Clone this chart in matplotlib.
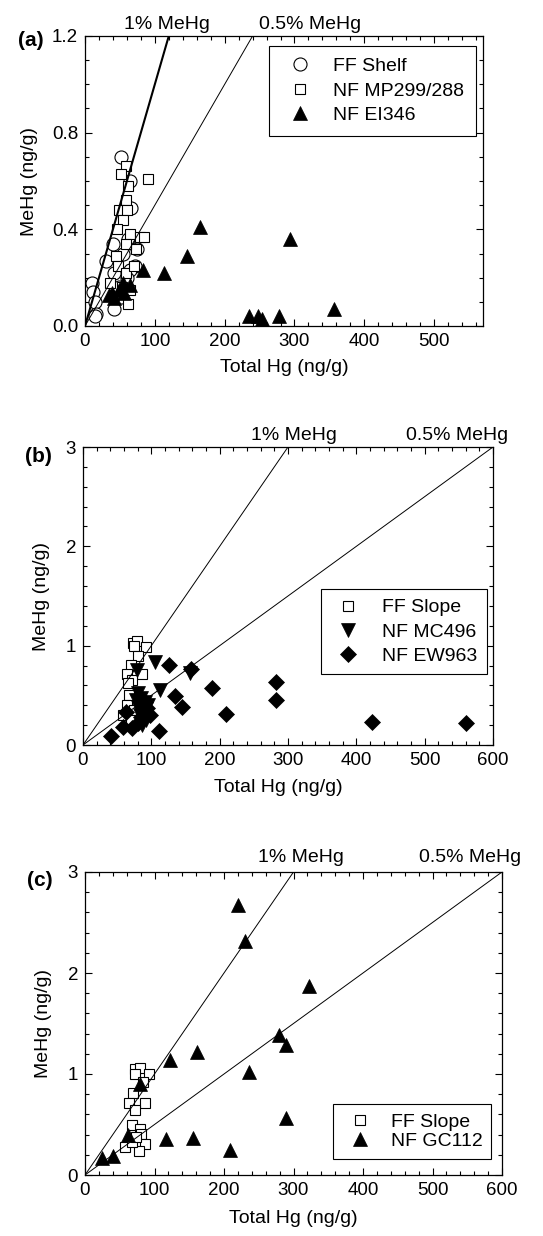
import numpy as np
import matplotlib
matplotlib.use("Agg")
import matplotlib.pyplot as plt
from matplotlib.ticker import MultipleLocator, FormatStrFormatter

plt.rcParams['font.family'] = ['Liberation Sans', 'DejaVu Sans']

# ---- panel (a) data: Total Hg (ng/g), MeHg (ng/g)
ff_shelf_x = [51, 64, 66, 40, 62, 74, 72, 65, 42, 10, 12, 15, 16, 14, 42, 52, 30, 55, 48, 60]
ff_shelf_y = [0.70, 0.60, 0.49, 0.34, 0.36, 0.32, 0.25, 0.23, 0.22, 0.18, 0.14, 0.10,
              0.05, 0.04, 0.07, 0.12, 0.27, 0.30, 0.16, 0.20]

mp299_x = [59, 51, 62, 90, 59, 48, 60, 54, 64, 79, 85, 46, 73, 45, 59, 47, 59, 36, 53, 65, 62, 70]
mp299_y = [0.66, 0.63, 0.58, 0.61, 0.52, 0.48, 0.48, 0.44, 0.38, 0.37, 0.37, 0.40,
           0.32, 0.29, 0.34, 0.25, 0.22, 0.18, 0.16, 0.15, 0.09, 0.25]

ei346_x = [165, 146, 113, 83, 65, 54, 48, 38, 34, 41, 56, 294, 357, 235, 248, 254, 278]
ei346_y = [0.41, 0.29, 0.22, 0.23, 0.17, 0.18, 0.15, 0.135, 0.13, 0.115, 0.135,
           0.36, 0.07, 0.04, 0.04, 0.03, 0.04]

# ---- panel (b)
ff_slope_b_x = [73, 79, 92, 75, 81, 70, 64, 86, 72, 68, 65, 58, 66, 75, 70]
ff_slope_b_y = [1.03, 1.05, 0.99, 1.00, 0.90, 0.81, 0.71, 0.71, 0.65, 0.50, 0.40,
                0.30, 0.62, 0.35, 0.25]

mc496_x = [106, 79, 112, 156, 80, 85, 90, 95, 88, 83, 92, 87, 80, 78]
mc496_y = [0.84, 0.76, 0.55, 0.72, 0.52, 0.47, 0.43, 0.40, 0.35, 0.30, 0.25, 0.20, 0.38, 0.45]

ew963_x = [41, 58, 72, 63, 111, 94, 85, 90, 98, 80, 126, 158, 189, 135, 145, 209,
           282, 282, 423, 560]
ew963_y = [0.09, 0.18, 0.17, 0.33, 0.14, 0.37, 0.28, 0.43, 0.30, 0.22, 0.81, 0.77,
           0.57, 0.49, 0.38, 0.31, 0.63, 0.45, 0.23, 0.22]

# ---- panel (c)
ff_slope_c_x = [72, 79, 92, 72, 84, 69, 64, 86, 72, 68, 79, 81, 86, 57, 78, 67, 74]
ff_slope_c_y = [1.05, 1.06, 1.00, 1.00, 0.92, 0.81, 0.71, 0.71, 0.64, 0.50, 0.46,
                0.41, 0.31, 0.28, 0.24, 0.33, 0.38]

gc112_x = [220, 230, 323, 279, 289, 161, 122, 236, 79, 289, 62, 117, 155, 209, 25, 40]
gc112_y = [2.67, 2.32, 1.87, 1.39, 1.29, 1.22, 1.14, 1.02, 0.90, 0.56, 0.40, 0.36,
           0.37, 0.25, 0.17, 0.19]

# MeHg as fraction of total Hg for the reference lines
ratio_1 = 0.01
ratio_05 = 0.005

W, H = 543, 1236
fig = plt.figure(figsize=(W / 100, H / 100), dpi=100)


def make_axes(left, right, top, bottom):
    return fig.add_axes([left / W, 1 - bottom / H, (right - left) / W, (bottom - top) / H])


def style_axes(ax, xmax, ymax, ymajor, yminor, yfmt):
    ax.set_xlim(0, xmax)
    ax.set_ylim(0, ymax)
    ax.xaxis.set_major_locator(MultipleLocator(100))
    ax.xaxis.set_minor_locator(MultipleLocator(20))
    ax.yaxis.set_major_locator(MultipleLocator(ymajor))
    ax.yaxis.set_minor_locator(MultipleLocator(yminor))
    ax.yaxis.set_major_formatter(FormatStrFormatter(yfmt))
    ax.tick_params(which='both', direction='in', top=True, right=True, width=0.8,
                   labelsize=13.5, pad=5)
    ax.tick_params(which='major', length=5)
    ax.tick_params(which='minor', length=3)
    for s in ax.spines.values():
        s.set_linewidth(0.9)
    ax.set_xlabel('Total Hg (ng/g)', fontsize=14)
    ax.set_ylabel('MeHg (ng/g)', fontsize=14)


def top_label(ax, x, text, dy):
    ax.annotate(text, xy=(x, 1), xycoords=('data', 'axes fraction'),
                xytext=(0, dy), textcoords='offset points', ha='center',
                va='baseline', fontsize=14, annotation_clip=False)


def add_legend(ax, loc, anchor, bpad, hlen, htpad, lspace):
    leg = ax.legend(loc=loc, bbox_to_anchor=anchor, fontsize=14, fancybox=False,
                    edgecolor='black', framealpha=1, borderpad=bpad,
                    handlelength=hlen, handletextpad=htpad, labelspacing=lspace,
                    borderaxespad=0)
    leg.get_frame().set_linewidth(0.8)


open_kw = dict(ls='none', mfc='white', mec='black', mew=0.8)
fill_kw = dict(ls='none', mfc='black', mec='black', mew=0.5)
xx = np.array([0, 600])

# ---------------- (a)
ax = make_axes(85, 483, 36, 326)
ax.plot(ff_shelf_x, ff_shelf_y, marker='o', ms=9.4, label='FF Shelf', **open_kw)
ax.plot(mp299_x, mp299_y, marker='s', ms=7.4, label='NF MP299/288', **open_kw)
ax.plot(ei346_x, ei346_y, marker='^', ms=9.8, label='NF EI346', **fill_kw)
ax.plot(xx, ratio_1 * xx, color='black', lw=1.5, zorder=5)
ax.plot(xx, ratio_05 * xx, color='black', lw=0.7, zorder=5)
style_axes(ax, 570, 1.2, 0.4, 0.1, '%.1f')
ax.yaxis.set_label_coords(-0.118, 0.5)
ax.xaxis.set_label_coords(0.5, -0.114)
top_label(ax, 118, '1% MeHg', 5)
top_label(ax, 322, '0.5% MeHg', 5)
add_legend(ax, 'upper right', (0.982, 0.966), 0.6, 2.0, 0.7, 0.35)
fig.text(18 / W, 1 - 40 / H, '(a)', fontsize=15, fontweight='bold', va='center')

# ---------------- (b)
ax = make_axes(83, 493, 447, 745)
ax.plot(ff_slope_b_x, ff_slope_b_y, marker='s', ms=7.4, label='FF Slope', **open_kw)
ax.plot(mc496_x, mc496_y, marker='v', ms=9.6, label='NF MC496', **fill_kw)
ax.plot(ew963_x, ew963_y, marker='D', ms=8.2, label='NF EW963', **fill_kw)
ax.plot(xx, ratio_1 * xx, color='black', lw=0.7, zorder=5)
ax.plot(xx, ratio_05 * xx, color='black', lw=0.7, zorder=5)
style_axes(ax, 600, 3, 1, 0.2, '%d')
ax.yaxis.set_label_coords(-0.080, 0.5)
ax.xaxis.set_label_coords(0.476, -0.114)
top_label(ax, 309, '1% MeHg', 5)
top_label(ax, 548, '0.5% MeHg', 5)
add_legend(ax, 'upper right', (0.985, 0.523), 0.5, 1.8, 0.85, 0.33)
fig.text(25 / W, 1 - 457 / H, '(b)', fontsize=15, fontweight='bold', va='center')

# ---------------- (c)
ax = make_axes(85, 502, 872, 1175)
ax.plot(ff_slope_c_x, ff_slope_c_y, marker='s', ms=7.4, label='FF Slope', **open_kw)
ax.plot(gc112_x, gc112_y, marker='^', ms=10, label='NF GC112', **fill_kw)
ax.plot(xx, ratio_1 * xx, color='black', lw=0.7, zorder=5)
ax.plot(xx, ratio_05 * xx, color='black', lw=0.7, zorder=5)
style_axes(ax, 600, 3, 1, 0.2, '%d')
ax.yaxis.set_label_coords(-0.079, 0.5)
ax.xaxis.set_label_coords(0.5, -0.116)
top_label(ax, 311, '1% MeHg', 7)
top_label(ax, 554, '0.5% MeHg', 7)
add_legend(ax, 'lower right', (0.974, 0.053), 0.45, 1.8, 0.7, 0.1)
fig.text(27 / W, 1 - 880 / H, '(c)', fontsize=15, fontweight='bold', va='center')

fig.savefig('out.png', dpi=100)
